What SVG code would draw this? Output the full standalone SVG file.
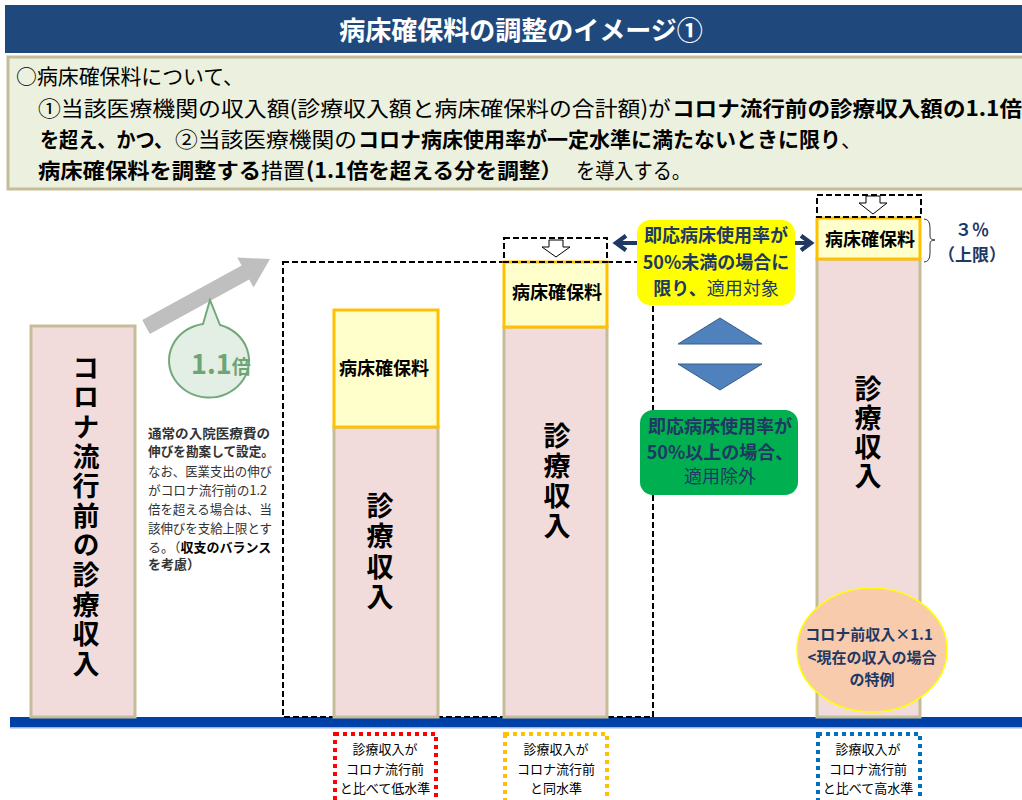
<svg xmlns="http://www.w3.org/2000/svg" width="1022" height="800" viewBox="0 0 1022 800">
<style>
text{font-family:"Noto Sans CJK JP","Noto Sans",sans-serif;}
.b{font-weight:700;}
.hdr{font-size:21px;fill:#000;}
.pink{fill:#F2DCDB;stroke:#C4BD97;stroke-width:3;}
.yel{fill:#FFFFCC;stroke:#FFC000;stroke-width:3;}
.dash{fill:none;stroke:#000;stroke-width:2;stroke-dasharray:6 3;}
.lbl{font-size:18px;font-weight:700;text-anchor:middle;fill:#000;}
.vt{font-weight:700;writing-mode:vertical-rl;fill:#000;}
.nav{fill:#1F3864;}
.note{font-size:13px;fill:#333;}
.bl{font-size:13px;text-anchor:middle;fill:#000;}
.hollow{fill:#fff;stroke:#000;stroke-width:1;}
</style>
<defs>
<marker id="ah" viewBox="0 0 10 10" refX="7" refY="5" markerWidth="4.5" markerHeight="4.5" orient="auto">
<path d="M2,1 L7.5,5 L2,9" fill="none" stroke="#1F3864" stroke-width="2.4"/>
</marker>
</defs>
<rect width="1022" height="800" fill="#fff"/>

<g id="title">
<rect x="5" y="5" width="1017" height="48" fill="#1F497D"/>
<text x="521" y="40" text-anchor="middle" font-size="26" font-weight="700" fill="#fff">病床確保料の調整のイメージ①</text>
</g>

<g id="summary">
<rect x="8" y="57" width="1016" height="132" fill="#EBF1DE" stroke="#C4BD97" stroke-width="3"/>
<text class="hdr" x="16" y="84" textLength="228" lengthAdjust="spacingAndGlyphs">○病床確保料について、</text>
<text class="hdr" x="38" y="116" textLength="633" lengthAdjust="spacingAndGlyphs">①当該医療機関の収入額(診療収入額と病床確保料の合計額)が</text>
<text class="hdr b" x="672" y="116" textLength="350" lengthAdjust="spacingAndGlyphs">コロナ流行前の診療収入額の1.1倍</text>
<text class="hdr b" x="40" y="147" textLength="133" lengthAdjust="spacingAndGlyphs">を超え、かつ、</text>
<text class="hdr" x="175" y="147" textLength="182" lengthAdjust="spacingAndGlyphs">②当該医療機関の</text>
<text class="hdr b" x="358" y="147" textLength="483" lengthAdjust="spacingAndGlyphs">コロナ病床使用率が一定水準に満たないときに限り</text>
<text class="hdr" x="841" y="147">、</text>
<text class="hdr b" x="38" y="178" textLength="223" lengthAdjust="spacingAndGlyphs">病床確保料を調整する</text>
<text class="hdr" x="261" y="178" textLength="44" lengthAdjust="spacingAndGlyphs">措置</text>
<text class="hdr b" x="306" y="178" textLength="256" lengthAdjust="spacingAndGlyphs">(1.1倍を超える分を調整）</text>
<text class="hdr" x="576" y="178" textLength="115" lengthAdjust="spacingAndGlyphs">を導入する。</text>
</g>

<g id="baseline">
<rect x="10" y="717" width="1012" height="10" fill="#0041A8"/>
<rect x="10" y="727" width="1012" height="1.5" fill="#9DB3D8"/>
</g>

<g id="bar-before">
<rect class="pink" x="31" y="326" width="104" height="391"/>
<text class="vt" x="86" y="354" font-size="27" letter-spacing="2.6">コロナ流行前の診療収入</text>
</g>

<g id="growth-arrow">
<polygon points="142.2,320 241.6,265.5 237.2,257.6 270,259 253.6,287.4 249.2,279.5 149.8,334" fill="#BFBFBF"/>
</g>

<g id="bubble">
<path d="M203,324 L210,300 L220,325 A40,37 0 1,1 203,324 Z" fill="#E3EFE5" stroke="#72A97A" stroke-width="2"/>
<text x="191" y="374" font-weight="700" fill="#6FA574"><tspan font-size="27">1.1</tspan><tspan font-size="19">倍</tspan></text>
</g>

<g id="note">
<text class="note b" x="148" y="438" fill="#000" textLength="122" lengthAdjust="spacingAndGlyphs">通常の入院医療費の</text>
<text class="note b" x="148" y="456" fill="#000" textLength="126" lengthAdjust="spacingAndGlyphs">伸びを勘案して設定。</text>
<text class="note" x="148" y="476" textLength="124" lengthAdjust="spacingAndGlyphs">なお、医業支出の伸び</text>
<text class="note" x="148" y="495" textLength="119" lengthAdjust="spacingAndGlyphs">がコロナ流行前の1.2</text>
<text class="note" x="148" y="514" textLength="124" lengthAdjust="spacingAndGlyphs">倍を超える場合は、当</text>
<text class="note" x="148" y="533" textLength="124" lengthAdjust="spacingAndGlyphs">該伸びを支給上限とす</text>
<text class="note" x="148" y="552">る。（<tspan font-weight="700" fill="#000">収支のバランス</tspan></text>
<text class="note b" x="148" y="569" fill="#000">を考慮）</text>
</g>

<g id="adjust-frame">
<rect class="dash" x="283" y="262" width="370" height="455"/>
</g>

<g id="bar-low">
<rect class="pink" x="334" y="427" width="104" height="290"/>
<rect class="yel" x="334" y="310" width="104" height="117"/>
<text class="lbl" x="384" y="375">病床確保料</text>
<text class="vt" x="380" y="492" font-size="27" letter-spacing="3.5">診療収入</text>
</g>

<g id="bar-same">
<rect class="pink" x="504" y="327" width="103" height="390"/>
<rect class="yel" x="504" y="262" width="103" height="65"/>
<text class="lbl" x="557" y="299">病床確保料</text>
<text class="vt" x="557" y="422" font-size="27" letter-spacing="3">診療収入</text>
<rect class="dash" x="504" y="238" width="103" height="24"/>
<polygon class="hollow" points="549,240 563,240 563,247 570,247 556,257 542,247 549,247"/>
</g>

<g id="bar-high">
<rect class="pink" x="817" y="259" width="103" height="458"/>
<rect class="yel" x="817" y="218" width="103" height="41"/>
<text class="lbl" x="870" y="246">病床確保料</text>
<text class="vt" x="868" y="375" font-size="27" letter-spacing="2">診療収入</text>
<rect class="dash" x="817" y="195" width="104" height="22"/>
<polygon class="hollow" points="866,196 880,196 880,203 887,203 873,214 859,203 866,203"/>
<path d="M924,219 Q930,219 930,228 L930,236 Q930,240 935,240 Q930,240 930,244 L930,253 Q930,262 924,262" fill="none" stroke="#333" stroke-width="1"/>
<text class="nav b" x="972" y="236" font-size="17" text-anchor="middle">３％</text>
<text class="nav b" x="972" y="261" font-size="17" text-anchor="middle">（上限）</text>
</g>

<g id="special-case">
<ellipse cx="872" cy="650" rx="75" ry="62" fill="#F8CBAD" stroke="#FFFF00" stroke-width="1.5"/>
<text class="nav b" font-size="15" text-anchor="middle"><tspan x="869" y="640">コロナ前収入×1.1</tspan><tspan x="872" y="663">&lt;現在の収入の場合</tspan><tspan x="872" y="685">の特例</tspan></text>
</g>

<g id="connectors">
<line x1="637" y1="243" x2="617" y2="243" stroke="#1F3864" stroke-width="4" marker-end="url(#ah)"/>
<line x1="795" y1="243" x2="810" y2="243" stroke="#1F3864" stroke-width="4" marker-end="url(#ah)"/>
<polygon points="720,318 762,344 678,344" fill="#4F81BD" stroke="#385D8A" stroke-width="1"/>
<polygon points="678,364 762,364 720,390" fill="#4F81BD" stroke="#385D8A" stroke-width="1"/>
</g>

<g id="cond-under50">
<rect x="637" y="220" width="158" height="85" rx="13" fill="#FFFF00"/>
<text class="nav" font-size="18" text-anchor="middle"><tspan x="716" y="242" font-weight="700">即応病床使用率が</tspan><tspan x="716" y="269" font-weight="700">50%未満の場合に</tspan><tspan x="716" y="295"><tspan font-weight="700">限り、</tspan>適用対象</tspan></text>
</g>

<g id="cond-over50">
<rect x="640" y="410" width="158" height="85" rx="13" fill="#00B050"/>
<text class="nav" font-size="18" text-anchor="middle"><tspan x="720" y="433" font-weight="700">即応病床使用率が</tspan><tspan x="720" y="459" font-weight="700">50%以上の場合、</tspan><tspan x="720" y="483">適用除外</tspan></text>
</g>

<g id="label-low">
<rect x="335" y="734" width="101" height="80" fill="none" stroke="#FF0000" stroke-width="4" stroke-dasharray="4 4"/>
<text class="bl"><tspan x="385" y="754">診療収入が</tspan><tspan x="385" y="774">コロナ流行前</tspan><tspan x="385" y="793">と比べて低水準</tspan></text>
</g>
<g id="label-same">
<rect x="505" y="734" width="102" height="80" fill="none" stroke="#FFC000" stroke-width="4" stroke-dasharray="4 4"/>
<text class="bl"><tspan x="556" y="754">診療収入が</tspan><tspan x="556" y="774">コロナ流行前</tspan><tspan x="556" y="793">と同水準</tspan></text>
</g>
<g id="label-high">
<rect x="818" y="734" width="102" height="80" fill="none" stroke="#0070C0" stroke-width="4" stroke-dasharray="4 4"/>
<text class="bl"><tspan x="868" y="754">診療収入が</tspan><tspan x="868" y="774">コロナ流行前</tspan><tspan x="868" y="793">と比べて高水準</tspan></text>
</g>
</svg>
